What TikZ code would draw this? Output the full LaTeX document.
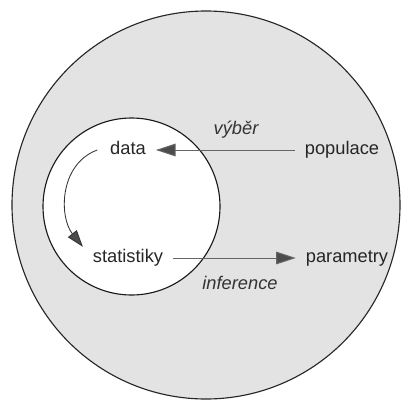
\documentclass[tikz,border=0pt]{standalone}
\usepackage{fontspec}
\setmainfont{Liberation Sans}
\usepackage{tikz}
\usetikzlibrary{arrows.meta, positioning, calc}

\begin{document}
\begin{tikzpicture}[
	x=0.025cm, y=-0.025cm,
	word/.style = {inner sep=7pt, text height=9pt, text depth=2.5pt, font=\fontsize{13}{15}\selectfont, text=black!85},
	label/.style = {font=\fontsize{13}{15}\selectfont\itshape, text=black!80},
	line/.style = {draw, black!60, line width=0.7pt, -{Triangle[length=14pt, width=9pt, fill=black!70]}},
	curve/.style = {draw, black!80, line width=0.6pt, -{Triangle[length=12pt, width=8pt, fill=black!70]}}
	]
	\useasboundingbox (0,0) rectangle (401,402);
	
	% Circles
	\filldraw [fill=black!11, draw=black!85, line width=0.8pt] (206,205) circle (194);
	\filldraw [fill=white, draw=black!90, line width=0.8pt] (131.5,206.5) circle (88.5);
	
	% Nodes
	\node [word] (data) at (128,150) {data};
	\node [word] (statistiky) at (128,258) {statistiky};
	\node [word] (populace) at (342,150) {populace};
	\node [word] (parametry) at (347,258) {parametry};
	\node [label] (vyber) at (236,130) {výběr};
	\node [label] (inference) at (240,283) {inference};
	
	% Lines
	\path [line] (populace) -- (data);
	\path [line] (statistiky) -- (parametry);
	\path [curve] ([xshift=-2] data.west) .. controls +(-38,14) and +(-24,-30) .. ($(statistiky.north west)+(0,7)$);
\end{tikzpicture}
\end{document}
